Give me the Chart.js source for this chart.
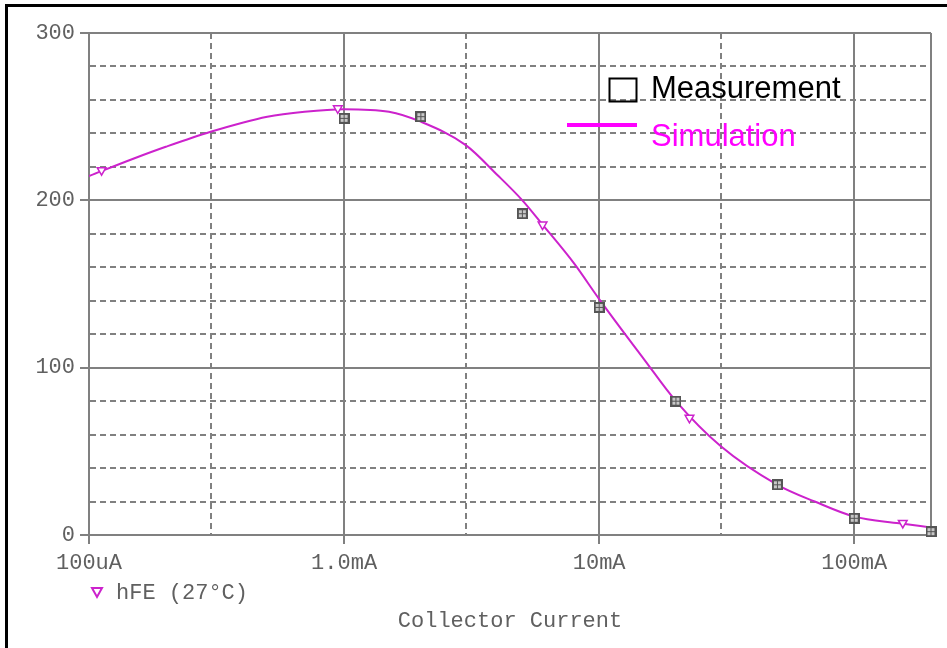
<!DOCTYPE html>
<html>
<head>
<meta charset="utf-8">
<script src="https://cdn.jsdelivr.net/npm/chart.js@4.4.1/dist/chart.umd.min.js"></script>
<style>
  html, body { margin: 0; padding: 0; background: #fff; }
</style>
</head>
<body>
<canvas id="plot" width="947" height="648"></canvas>
<script>
// simulated hFE vs collector current (A)
const simCurrent = [1e-4, 1.5e-4, 2e-4, 3e-4, 5e-4, 7e-4, 1e-3, 1.5e-3, 2e-3, 3e-3, 4e-3, 5e-3,
                    6e-3, 8e-3, 1e-2, 1.5e-2, 2e-2, 3e-2, 5e-2, 7e-2, 1e-1, 1.5e-1, 2e-1];
const simHfe = [214.5, 225, 232, 241, 250, 253, 254.5, 253, 247, 233, 215, 200,
                185.5, 162, 141, 105, 80, 53, 30, 20, 11, 7, 4.5];

// triangle markers sitting on the simulated trace
const markCurrent = [1.12e-4, 9.45e-4, 6e-3, 2.26e-2, 1.55e-1];
const markHfe = [218, 255, 185.5, 70, 7.2];

// measured points
const measCurrent = [1e-3, 2e-3, 5e-3, 1e-2, 2e-2, 5e-2, 1e-1, 2e-1];
const measHfe = [249, 250, 192, 136, 80, 30, 10, 2];

// axis ticks
const xTickValues = [1e-4, 3e-4, 1e-3, 3e-3, 1e-2, 3e-2, 1e-1, 2e-1];
const xTickLabels = ['100uA', '', '1.0mA', '', '10mA', '', '100mA', ''];
const yTickLabels = ['0', '100', '200', '300'];

const GRID = '#808080';
const TXT = '#606060';
const TRACE = '#cc22cc';
const monoFont = {family: 'Liberation Mono', size: 22};

function toPoints(xs, ys) {
    return xs.map((x, i) => ({x: x, y: ys[i]}));
}

// little boxed-grid symbol used by the measurement points
function gridBox() {
    const c = document.createElement('canvas');
    c.width = 11; c.height = 11;
    const g = c.getContext('2d');
    g.fillStyle = '#555';
    g.fillRect(0, 0, 11, 11);
    g.fillStyle = '#c8c8c8';
    [[2, 2], [6, 2], [2, 6], [6, 6]].forEach(p => g.fillRect(p[0], p[1], 3, 3));
    return c;
}

const isDecade = v => Math.abs(Math.log10(v) - Math.round(Math.log10(v))) < 1e-6;
const xLabelled = v => xTickLabels[xTickValues.findIndex(t => Math.abs(t - v) / t < 1e-6)] !== '';
const yLabelled = v => yTickLabels.includes(String(v));

const decorations = {
    id: 'decorations',
    afterDraw(chart) {
        const ctx = chart.ctx;
        ctx.save();
        // outer frame (top and left)
        ctx.fillStyle = '#000';
        ctx.fillRect(5, 4, 942, 3);
        ctx.fillRect(5, 4, 3, 644);

        // in-plot legend
        ctx.strokeStyle = '#000';
        ctx.lineWidth = 2;
        ctx.strokeRect(609.5, 78.5, 27, 23);
        ctx.fillStyle = '#000';
        ctx.font = '31px "Liberation Sans", Arial, sans-serif';
        ctx.textBaseline = 'middle';
        ctx.textAlign = 'left';
        ctx.fillText('Measurement', 651, 89);
        ctx.fillStyle = '#ff00ff';
        ctx.fillRect(567, 123, 70, 4);
        ctx.fillText('Simulation', 651, 137);

        // trace legend under the x axis
        ctx.strokeStyle = TRACE;
        ctx.lineWidth = 2;
        ctx.beginPath();
        ctx.moveTo(92, 588);
        ctx.lineTo(102, 588);
        ctx.lineTo(97, 597);
        ctx.closePath();
        ctx.stroke();
        ctx.fillStyle = TXT;
        ctx.font = '22px "Liberation Mono", monospace';
        ctx.fillText('hFE (27°C)', 116, 593);
        ctx.restore();
    }
};

const canvas = document.getElementById('plot');
const chart = new Chart(canvas, {
    type: 'scatter',
    data: {
        datasets: [{
            label: 'Measurement',
            data: toPoints(measCurrent, measHfe),
            pointStyle: gridBox(),
            pointRadius: 5,
            clip: false
        }, {
            label: 'hFE markers',
            data: toPoints(markCurrent, markHfe),
            pointStyle: 'triangle',
            rotation: 180,
            pointRadius: 5,
            borderWidth: 1.5,
            borderColor: TRACE,
            backgroundColor: '#fff',
            clip: false
        }, {
            label: 'Simulation',
            data: toPoints(simCurrent, simHfe),
            showLine: true,
            borderColor: TRACE,
            borderWidth: 2,
            pointRadius: 0,
            cubicInterpolationMode: 'monotone'
        }]
    },
    options: {
        responsive: false,
        devicePixelRatio: 1,
        animation: false,
        layout: { padding: { top: 33, right: 16, left: 0, bottom: 0 } },
        plugins: {
            legend: { display: false },
            tooltip: { enabled: false }
        },
        scales: {
            x: {
                type: 'logarithmic',
                min: 1e-4,
                max: 2e-1,
                afterBuildTicks: s => { s.ticks = xTickValues.map(v => ({value: v})); },
                afterFit: s => { s.height = 113; },
                ticks: {
                    autoSkip: false,
                    maxRotation: 0,
                    padding: 6,
                    color: TXT,
                    font: monoFont,
                    callback: (v, i) => xTickLabels[i]
                },
                grid: {
                    color: GRID,
                    lineWidth: 2,
                    tickLength: 9,
                    tickWidth: 2,
                    tickColor: c => (c.tick && xLabelled(c.tick.value)) ? GRID : 'rgba(0,0,0,0)'
                },
                border: {
                    display: true,
                    color: GRID,
                    width: 2,
                    dash: c => (c.tick && !isDecade(c.tick.value) && c.tick.value !== 2e-1) ? [6, 4] : []
                },
                title: {
                    display: true,
                    text: 'Collector Current',
                    color: TXT,
                    font: monoFont,
                    padding: { top: 0, bottom: 14 }
                }
            },
            y: {
                min: 0,
                max: 300,
                afterFit: s => { s.width = 89; },
                ticks: {
                    stepSize: 20,
                    padding: 5,
                    color: TXT,
                    font: monoFont,
                    callback: v => yLabelled(v) ? String(v) : ''
                },
                grid: {
                    color: GRID,
                    lineWidth: 2,
                    tickLength: 9,
                    tickWidth: 2,
                    tickColor: c => (c.tick && yLabelled(c.tick.value)) ? GRID : 'rgba(0,0,0,0)'
                },
                border: {
                    display: true,
                    color: GRID,
                    width: 2,
                    dash: c => (c.tick && c.tick.value % 100 !== 0) ? [6, 4] : []
                }
            }
        }
    },
    plugins: [decorations]
});
</script>
</body>
</html>
